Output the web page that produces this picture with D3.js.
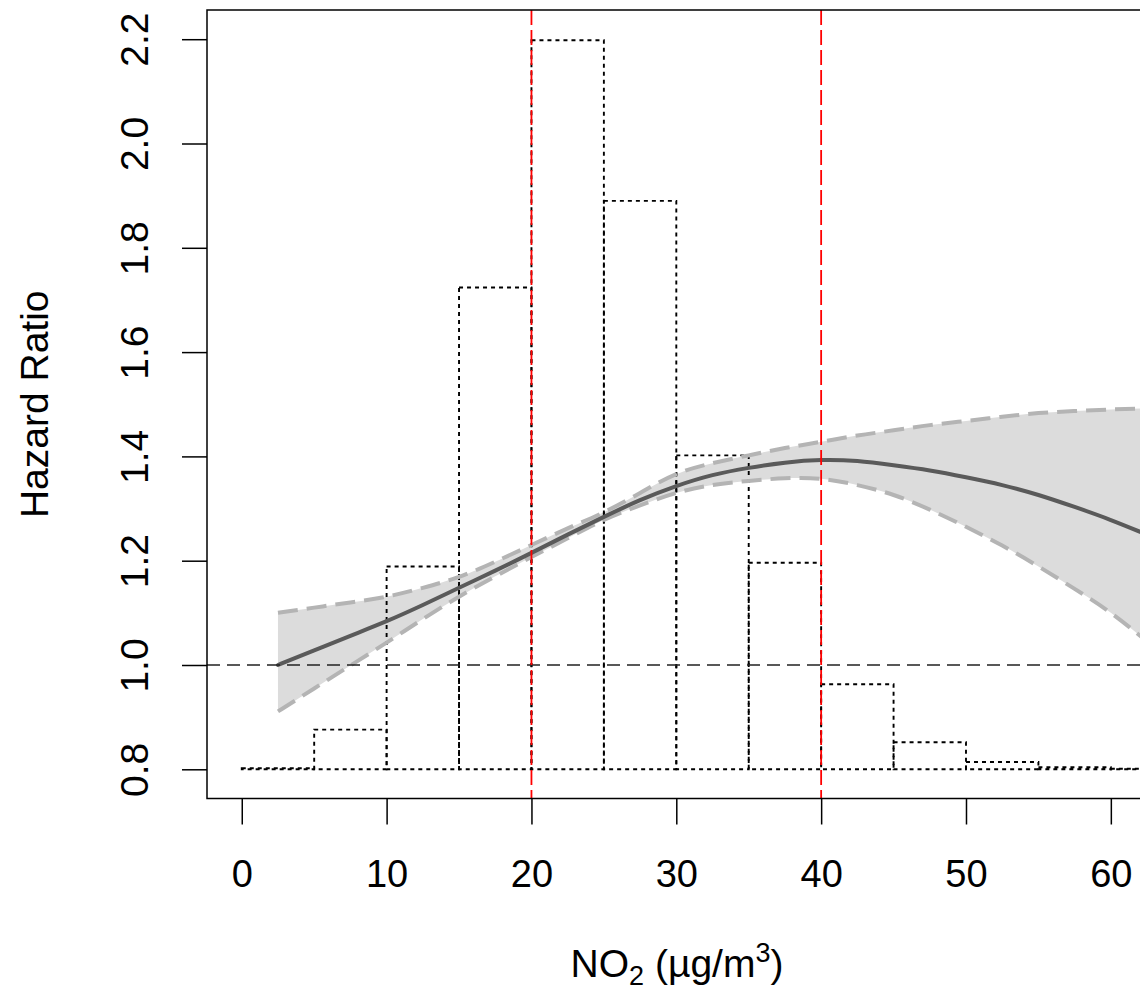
<!DOCTYPE html>
<html>
<head>
<meta charset="utf-8">
<script src="https://cdn.jsdelivr.net/npm/d3@7"></script>
<style>
  html, body { margin: 0; padding: 0; background: #fff; }
  svg { display: block; }
  text { font-family: "Liberation Sans", Arial, Helvetica, sans-serif; fill: #000; }
</style>
</head>
<body>
<svg id="chart" width="1140" height="992"></svg>
<script>
// ---- data ----
const xTicks = [0, 10, 20, 30, 40, 50, 60];
const yTicks = [0.8, 1.0, 1.2, 1.4, 1.6, 1.8, 2.0, 2.2];
const yTickLabels = ["0.8", "1.0", "1.2", "1.4", "1.6", "1.8", "2.0", "2.2"];

// histogram (rescaled onto the HR axis, baseline 0.8)
const histBreaks = [0, 5, 10, 15, 20, 25, 30, 35, 40, 45, 50, 55, 60, 65];
const histTops   = [0.802, 0.876, 1.189, 1.724, 2.198, 1.890, 1.402, 1.196, 0.963, 0.852, 0.814, 0.804, 0.801];
const histBase = 0.8;

// spline fit
const no2   = [2.5, 5, 7.5, 10, 12.5, 15, 17.5, 20, 22.5, 25, 27.5, 30, 32.5, 35, 37.5, 40, 42.5, 45, 47.5, 50, 52.5, 55, 57.5, 60, 62.5];
const hr    = [1.000, 1.028, 1.056, 1.084, 1.115, 1.148, 1.181, 1.215, 1.250, 1.284, 1.316, 1.343, 1.364, 1.378, 1.388, 1.393, 1.391, 1.383, 1.373, 1.360, 1.345, 1.326, 1.303, 1.278, 1.250];
const upper = [1.100, 1.110, 1.120, 1.131, 1.148, 1.169, 1.198, 1.230, 1.262, 1.293, 1.330, 1.366, 1.387, 1.402, 1.416, 1.428, 1.440, 1.450, 1.460, 1.468, 1.476, 1.483, 1.487, 1.490, 1.492];
const lower = [0.911, 0.955, 0.999, 1.043, 1.088, 1.131, 1.170, 1.207, 1.243, 1.278, 1.306, 1.330, 1.345, 1.353, 1.358, 1.357, 1.345, 1.326, 1.298, 1.265, 1.229, 1.189, 1.146, 1.100, 1.045];

const refHR = 1.0;
const cutoffs = [20, 40];

const xTitleMain = "NO";
const xTitleSub = "2";
const xTitleRest = " (µg/m";
const xTitleSup = "3";
const xTitleEnd = ")";
const yTitle = "Hazard Ratio";

// ---- layout ----
const svg = d3.select("#chart");
const L = 207, R = 1145.6, T = 10, B = 798.5;
const x = d3.scaleLinear().domain([-2.4, 62.4]).range([L, R]);
const y = d3.scaleLinear().domain([0.744, 2.256]).range([B, T]);

svg.append("rect").attr("width", 1140).attr("height", 992).attr("fill", "#fff");

svg.append("defs").append("clipPath").attr("id", "plotclip")
  .append("rect").attr("x", L).attr("y", T).attr("width", R - L).attr("height", B - T);

const plot = svg.append("g").attr("clip-path", "url(#plotclip)");

// confidence band
const pts = no2.map((v, i) => ({ x: v, hr: hr[i], lo: lower[i], hi: upper[i] }));
const curve = d3.curveNatural;
plot.append("path")
  .datum(pts)
  .attr("d", d3.area().x(d => x(d.x)).y0(d => y(d.lo)).y1(d => y(d.hi)).curve(curve))
  .attr("fill", "#dcdcdc");

// histogram
const bars = histTops.map((t, i) => ({ x0: histBreaks[i], x1: histBreaks[i + 1], top: t }));
plot.append("g").selectAll("rect")
  .data(bars).join("rect")
  .attr("x", d => x(d.x0))
  .attr("width", d => x(d.x1) - x(d.x0))
  .attr("y", d => y(d.top))
  .attr("height", d => y(histBase) - y(d.top))
  .attr("fill", "none")
  .attr("stroke", "#000")
  .attr("stroke-width", 1.9)
  .attr("stroke-dasharray", "4,4");

// CI borders
["lo", "hi"].forEach(k => {
  plot.append("path")
    .datum(pts)
    .attr("d", d3.line().x(d => x(d.x)).y(d => y(d[k])).curve(curve))
    .attr("fill", "none")
    .attr("stroke", "#b4b4b4")
    .attr("stroke-width", 4)
    .attr("stroke-dasharray", "20,9");
});

// HR curve
plot.append("path")
  .datum(pts)
  .attr("d", d3.line().x(d => x(d.x)).y(d => y(d.hr)).curve(curve))
  .attr("fill", "none")
  .attr("stroke", "#5a5a5a")
  .attr("stroke-width", 4)
  .attr("stroke-linecap", "round");

// reference line at HR = 1
plot.append("line")
  .attr("x1", L).attr("x2", R)
  .attr("y1", y(refHR)).attr("y2", y(refHR))
  .attr("stroke", "#222")
  .attr("stroke-width", 1.6)
  .attr("stroke-dasharray", "13,7");

// cut-off lines
plot.append("g").selectAll("line")
  .data(cutoffs).join("line")
  .attr("x1", d => x(d)).attr("x2", d => x(d))
  .attr("y1", T).attr("y2", B)
  .attr("stroke", "#ff0000")
  .attr("stroke-width", 1.8)
  .attr("stroke-dasharray", "15,5");

// box
svg.append("rect")
  .attr("x", L).attr("y", T).attr("width", R - L).attr("height", B - T)
  .attr("fill", "none").attr("stroke", "#000").attr("stroke-width", 1.5);

// x axis
const xAxis = d3.axisBottom(x).tickValues(xTicks).tickSize(26).tickPadding(36).tickFormat(d3.format("d"));
const gx = svg.append("g").attr("transform", `translate(0,${B})`).call(xAxis);
gx.select(".domain").remove();
gx.selectAll(".tick line").attr("stroke", "#000").attr("stroke-width", 1.5);
gx.selectAll(".tick text").attr("font-size", 38).attr("fill", "#000")
  .attr("font-family", "'Liberation Sans', Arial, sans-serif");

// y axis
const yAxis = d3.axisLeft(y).tickValues(yTicks).tickSize(25).tickPadding(0)
  .tickFormat((d, i) => yTickLabels[i]);
const gy = svg.append("g").attr("transform", `translate(${L},0)`).call(yAxis);
gy.select(".domain").remove();
gy.selectAll(".tick line").attr("stroke", "#000").attr("stroke-width", 1.5);
gy.selectAll(".tick text")
  .attr("font-size", 39).attr("fill", "#000")
  .attr("font-family", "'Liberation Sans', Arial, sans-serif")
  .attr("x", null).attr("dy", null)
  .attr("text-anchor", "middle")
  .attr("transform", `translate(${148 - L},0) rotate(-90)`);

// axis titles
const xt = svg.append("text")
  .attr("x", 677).attr("y", 977)
  .attr("text-anchor", "middle")
  .attr("font-size", 39);
xt.append("tspan").text(xTitleMain);
xt.append("tspan").attr("font-size", 27).attr("dy", 8).text(xTitleSub);
xt.append("tspan").attr("dy", -8).text(xTitleRest);
xt.append("tspan").attr("font-size", 27).attr("dy", -15).text(xTitleSup);
xt.append("tspan").attr("dy", 15).text(xTitleEnd);

svg.append("text")
  .attr("transform", `translate(48,${(T + B) / 2}) rotate(-90)`)
  .attr("text-anchor", "middle")
  .attr("font-size", 39)
  .text(yTitle);
</script>
</body>
</html>
